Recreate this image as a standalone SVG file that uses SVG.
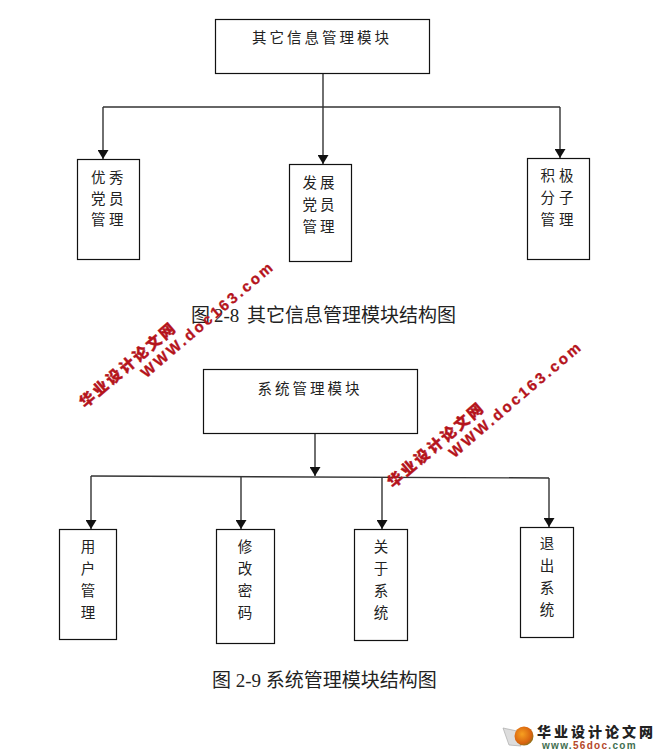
<svg xmlns="http://www.w3.org/2000/svg" width="666" height="754" viewBox="0 0 666 754">
<defs>
<marker id="ah" markerUnits="userSpaceOnUse" markerWidth="11" markerHeight="11" refX="9" refY="5.500" orient="auto"><path d="M0 0L9 5.500L0 11Z" fill="#111"/></marker>
<radialGradient id="ball" cx="0.4" cy="0.4" r="0.7"><stop offset="0" stop-color="#f7a020"/><stop offset="0.7" stop-color="#d8620f"/><stop offset="1" stop-color="#6a7a20"/></radialGradient>
<g id="wm">
<text class="wa" x="0" y="0">华业设计论文网</text>
<text class="wb" x="66" y="17">WWW.doc163.com</text>
</g>
</defs>
<style>
text{font-family:"Liberation Serif","Noto Sans CJK SC",serif;fill:#222}
.n{fill:#fff;stroke:#111;stroke-width:1.2}
.t{font-size:14.5px;text-anchor:middle}
.c{font-size:19px}
.l{fill:none;stroke:#333;stroke-width:1.4}
.a{marker-end:url(#ah)}
.wa{font-family:"Noto Sans CJK SC",sans-serif;font-weight:900;font-size:15px;letter-spacing:2.500px;fill:#b5141c;stroke:#b5141c;stroke-width:.4}
.wb{font-family:"Liberation Sans",sans-serif;font-weight:700;font-size:15px;letter-spacing:2.700px;fill:#b5141c;stroke:#b5141c;stroke-width:.3}
</style>
<rect width="666" height="754" fill="#fff"/>
<g id="connectors">
<path class="l" d="M103 107L560 107"/>
<path class="l a" d="M323 74L323 164"/>
<path class="l a" d="M103 107L103 159"/>
<path class="l a" d="M560 107L560 158"/>
<path class="l a" d="M315 433L315 476"/>
<path class="l" d="M91 476L549 478"/>
<path class="l a" d="M91 476L91 529"/>
<path class="l a" d="M241 477L241 529"/>
<path class="l a" d="M382 477L382 529"/>
<path class="l a" d="M549 478L549 527"/>
</g>
<g id="n1"><rect class="n" x="215.500" y="19.500" width="214" height="54"/><text class="t" x="322" y="43" letter-spacing="3">其它信息管理模块</text></g>
<g id="n2"><rect class="n" x="77.500" y="159.500" width="62" height="100"/><text class="t" x="109" y="183" letter-spacing="3.500">优秀</text><text class="t" x="109" y="204" letter-spacing="3.500">党员</text><text class="t" x="109" y="225" letter-spacing="3.500">管理</text></g>
<g id="n3"><rect class="n" x="289.500" y="164.500" width="62" height="97"/><text class="t" x="320" y="188" letter-spacing="3">发展</text><text class="t" x="320" y="210" letter-spacing="3">党员</text><text class="t" x="320" y="232" letter-spacing="3">管理</text></g>
<g id="n4"><rect class="n" x="527.500" y="158.500" width="62" height="101"/><text class="t" x="559" y="181" letter-spacing="4">积极</text><text class="t" x="559" y="203" letter-spacing="4">分子</text><text class="t" x="559" y="225" letter-spacing="4">管理</text></g>
<g id="n5"><rect class="n" x="203.500" y="369.500" width="214" height="64"/><text class="t" x="310" y="394" letter-spacing="3">系统管理模块</text></g>
<g id="n6"><rect class="n" x="59.500" y="529.500" width="57" height="110"/><text class="t" x="88" y="552">用</text><text class="t" x="88" y="574">户</text><text class="t" x="88" y="596">管</text><text class="t" x="88" y="618">理</text></g>
<g id="n7"><rect class="n" x="216.500" y="529.500" width="58" height="114"/><text class="t" x="245" y="552">修</text><text class="t" x="245" y="574">改</text><text class="t" x="245" y="596">密</text><text class="t" x="245" y="618">码</text></g>
<g id="n8"><rect class="n" x="354.500" y="529.500" width="53" height="111"/><text class="t" x="381" y="552">关</text><text class="t" x="381" y="574">于</text><text class="t" x="381" y="596">系</text><text class="t" x="381" y="618">统</text></g>
<g id="n9"><rect class="n" x="520.500" y="527.500" width="53" height="110"/><text class="t" x="547" y="549">退</text><text class="t" x="547" y="571">出</text><text class="t" x="547" y="593">系</text><text class="t" x="547" y="615">统</text></g>
<text class="c" x="191" y="322">图<tspan x="214">2-8</tspan><tspan x="247">其它信息管理模块结构图</tspan></text>
<text class="c" x="212" y="687">图 2-9 系统管理模块结构图</text>
<use href="#wm" transform="translate(85 408.400) rotate(-40.500)"/>
<use href="#wm" transform="translate(393 488.400) rotate(-40.500)"/>
<g id="logo">
<path d="M503 728L517 731L521 746L509 745Z" fill="#ddd" stroke="#aaa" stroke-width=".7"/>
<circle cx="524" cy="736" r="9.500" fill="url(#ball)"/>
<text x="537" y="737" style="font-family:'Noto Sans CJK SC',sans-serif;font-weight:900;font-size:14px;letter-spacing:3px;fill:#222">华业设计论文网</text>
<text x="542" y="749" style="font-family:'Liberation Sans',sans-serif;font-weight:700;font-size:10px;letter-spacing:1.300px;fill:#3f6f50">www.<tspan fill="#b5482a">56doc</tspan>.com</text>
</g>
</svg>
